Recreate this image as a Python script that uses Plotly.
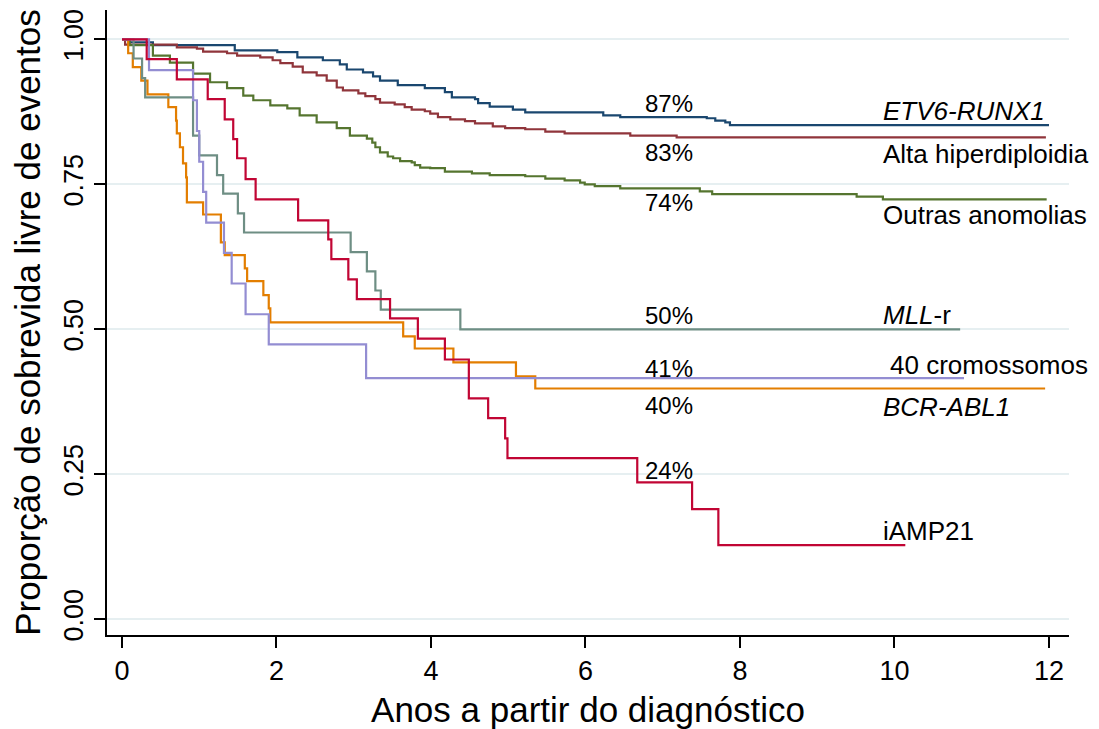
import plotly.graph_objects as go

# ---------------- data (Kaplan-Meier step points: time in years, survival proportion) -------------
etv6_t = [0, 0.10, 0.40, 1.46, 2.01, 2.27, 2.60, 2.82, 2.91, 3.12, 3.25, 3.34, 3.57, 3.92, 4.18, 4.27,
          4.57, 4.61, 4.76, 5.06, 5.22, 6.23, 6.45, 7.57, 7.68, 7.81, 7.87, 12.0]
etv6_s = [1.0, 0.995, 0.990, 0.981, 0.978, 0.969, 0.964, 0.957, 0.948, 0.943, 0.936, 0.929, 0.921, 0.916,
          0.909, 0.900, 0.897, 0.890, 0.884, 0.879, 0.874, 0.869, 0.866, 0.864, 0.860, 0.857, 0.852, 0.852]

alta_t = [0, 0.04, 0.71, 0.97, 1.05, 1.36, 1.49, 1.79, 1.95, 2.05, 2.21, 2.34, 2.52, 2.65, 2.78, 2.86,
          3.06, 3.15, 3.28, 3.34, 3.53, 3.66, 3.75, 3.92, 3.99, 4.09, 4.25, 4.44, 4.57, 4.80, 4.96, 5.22,
          5.48, 5.73, 6.58, 7.18, 11.96]
alta_s = [1.0, 0.991, 0.986, 0.984, 0.979, 0.976, 0.972, 0.969, 0.964, 0.959, 0.953, 0.943, 0.938, 0.929,
          0.917, 0.912, 0.907, 0.902, 0.897, 0.891, 0.888, 0.883, 0.879, 0.876, 0.872, 0.866, 0.862, 0.859,
          0.855, 0.850, 0.847, 0.845, 0.841, 0.838, 0.834, 0.831, 0.831]

outras_t = [0, 0.10, 0.40, 0.62, 0.92, 1.14, 1.36, 1.57, 1.70, 1.92, 2.14, 2.30, 2.52, 2.78, 2.95, 3.17,
            3.24, 3.28, 3.34, 3.44, 3.51, 3.60, 3.75, 3.79, 3.86, 3.99, 4.18, 4.53, 4.76, 5.22, 5.48, 5.73,
            5.93, 5.99, 6.12, 6.45, 7.48, 7.64, 9.51, 9.85, 11.97]
outras_s = [1.0, 0.990, 0.972, 0.960, 0.941, 0.926, 0.916, 0.903, 0.895, 0.886, 0.881, 0.869, 0.857, 0.847,
            0.834, 0.829, 0.822, 0.814, 0.805, 0.798, 0.795, 0.790, 0.788, 0.783, 0.779, 0.778, 0.772, 0.769,
            0.766, 0.764, 0.760, 0.757, 0.753, 0.750, 0.747, 0.743, 0.738, 0.733, 0.729, 0.724, 0.724]

bcr_t = [0, 0.08, 0.14, 0.25, 0.33, 0.60, 0.70, 0.71, 0.75, 0.79, 0.83, 0.84, 1.05, 1.28, 1.33, 1.59,
         1.62, 1.83, 1.90, 1.92, 3.64, 3.79, 4.29, 5.10, 5.35, 11.95]
bcr_s = [1.0, 0.976, 0.952, 0.929, 0.905, 0.883, 0.860, 0.838, 0.814, 0.786, 0.762, 0.719, 0.698, 0.650,
         0.628, 0.605, 0.583, 0.559, 0.536, 0.512, 0.488, 0.467, 0.443, 0.419, 0.398, 0.398]

mll_t = [0, 0.15, 0.26, 0.30, 0.92, 1.00, 1.23, 1.31, 1.50, 1.58, 2.96, 3.17, 3.28, 3.35, 4.38, 10.85]
mll_s = [1.0, 0.967, 0.933, 0.900, 0.834, 0.800, 0.766, 0.734, 0.700, 0.667, 0.633, 0.600, 0.567, 0.534,
         0.500, 0.500]

iamp_t = [0, 0.32, 0.71, 1.11, 1.33, 1.44, 1.49, 1.60, 1.73, 2.28, 2.67, 2.71, 2.93, 3.04, 3.47, 3.83,
          4.18, 4.49, 4.74, 4.96, 4.99, 6.67, 7.38, 7.72, 10.14]
iamp_s = [1.0, 0.966, 0.931, 0.897, 0.862, 0.828, 0.795, 0.759, 0.724, 0.688, 0.655, 0.621, 0.586, 0.552,
          0.519, 0.484, 0.448, 0.381, 0.347, 0.312, 0.278, 0.236, 0.190, 0.128, 0.128]

crom_t = [0, 0.35, 0.92, 0.97, 1.00, 1.05, 1.09, 1.32, 1.42, 1.60, 1.90, 3.16, 10.9]
crom_s = [1.0, 0.947, 0.895, 0.842, 0.789, 0.737, 0.684, 0.632, 0.579, 0.526, 0.474, 0.416, 0.416]

group_names = ["<i>ETV6-RUNX1</i>", "Alta hiperdiploidia", "Outras anomolias", "<i>MLL</i>-r",
               "40 cromossomos", "<i>BCR-ABL1</i>", "iAMP21"]
pct_labels = ["87%", "83%", "74%", "50%", "41%", "40%", "24%"]

x_ticks = [0, 2, 4, 6, 8, 10, 12]
y_ticks = [0.0, 0.25, 0.5, 0.75, 1.0]
y_tick_text = ["0.00", "0.25", "0.50", "0.75", "1.00"]

x_title = "Anos a partir do diagnóstico"
y_title = "Proporção de sobrevida livre de eventos"

# ---------------- styling / layout -------------
series = [
    (etv6_t, etv6_s, "#1a476f"),
    (alta_t, alta_s, "#90353b"),
    (outras_t, outras_s, "#55752f"),
    (bcr_t, bcr_s, "#e37e00"),
    (mll_t, mll_s, "#6e8e84"),
    (crom_t, crom_s, "#938dd2"),
    (iamp_t, iamp_s, "#c10534"),
]

# label placement (data coordinates)
pct_pos = [(7.08, 0.889), (7.08, 0.805), (7.08, 0.718), (7.08, 0.524),
           (7.08, 0.433), (7.08, 0.369), (7.08, 0.257)]
name_pos = [(9.825, 0.876), (9.825, 0.802), (9.825, 0.697), (9.825, 0.524),
            (9.916, 0.438), (9.825, 0.366), (9.825, 0.152)]

FONT = "Liberation Sans, Arial, Helvetica, sans-serif"

fig = go.Figure()
for t, s, c in series:
    fig.add_trace(go.Scatter(x=t, y=s, mode="lines", line=dict(color=c, width=2.2, shape="hv"),
                             showlegend=False, hoverinfo="skip"))

for txt, (x, y) in zip(pct_labels, pct_pos):
    fig.add_annotation(x=x, y=y, text=txt, showarrow=False, xanchor="center", yanchor="middle",
                       font=dict(family=FONT, size=24, color="black"))
for txt, (x, y) in zip(group_names, name_pos):
    fig.add_annotation(x=x, y=y, text=txt, showarrow=False, xanchor="left", yanchor="middle",
                       font=dict(family=FONT, size=26, color="black"))

fig.update_layout(
    width=1099, height=729,
    margin=dict(l=107, r=30, t=10, b=94, autoexpand=False),
    paper_bgcolor="white", plot_bgcolor="white",
    font=dict(family=FONT, color="black"),
    xaxis=dict(range=[-0.194, 12.259], tickvals=x_ticks, ticks="outside", ticklen=11, tickwidth=2,
               tickcolor="black", showline=True, linecolor="black", linewidth=2, showgrid=False,
               zeroline=False, tickfont=dict(size=27, family=FONT),
               title=dict(text=x_title, font=dict(size=35, family=FONT), standoff=12)),
    yaxis=dict(range=[-0.027, 1.0506], tickvals=y_ticks, ticktext=y_tick_text, tickangle=-90,
               ticks="outside", ticklen=11, tickwidth=2, tickcolor="black", showline=True,
               linecolor="black", linewidth=2, showgrid=True, gridcolor="#e6eff1", gridwidth=2,
               zeroline=False, tickfont=dict(size=27, family=FONT),
               title=dict(text=y_title, font=dict(size=35, family=FONT), standoff=8)),
)

fig.write_html("out.html")
